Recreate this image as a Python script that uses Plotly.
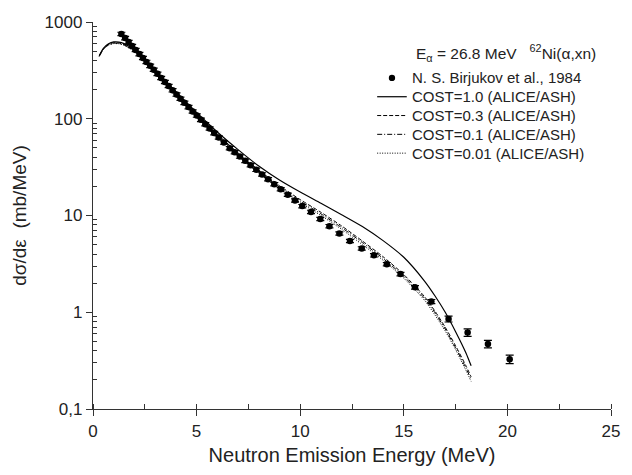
import numpy as np
import plotly.graph_objects as go

# Measured neutron emission spectrum, N. S. Birjukov et al. (1984)
exp_energy = [1.37, 1.55, 1.72, 1.89, 2.06, 2.24, 2.41, 2.58, 2.76, 2.93,
              3.11, 3.29, 3.47, 3.65, 3.84, 4.03, 4.22, 4.41, 4.61, 4.81,
              5.01, 5.21, 5.42, 5.63, 5.85, 6.07, 6.32, 6.60, 6.84, 7.09,
              7.35, 7.61, 7.88, 8.16, 8.45, 8.75, 9.06, 9.40, 9.75, 10.10,
              10.52, 10.97, 11.41, 11.89, 12.40, 12.97, 13.56, 14.18, 14.84, 15.54,
              16.33, 17.16, 18.08, 19.06, 20.11]
exp_xs = [753, 682, 621, 565, 514, 466, 425, 387, 352, 321,
          291, 264, 240, 218, 197, 178, 161, 146, 132, 119,
          108, 97.5, 87.9, 79.3, 71.1, 64.0, 56.8, 49.7, 45.1, 40.7,
          36.7, 33.1, 29.7, 26.6, 23.7, 21.1, 18.7, 16.4, 14.3, 12.5,
          10.9, 9.20, 7.76, 6.52, 5.45, 4.57, 3.88, 3.14, 2.48, 1.81,
          1.29, 0.853, 0.618, 0.470, 0.327]
# relative uncertainty (%) of each measured point
exp_err_pct = [4] * 50 + [5, 7, 9, 9, 10]

# ALICE/ASH calculations for several COST values
calc_energy = [0.3, 0.5, 0.75, 1.0, 1.25, 1.5, 2.0, 2.5, 3.0, 3.5,
               4.0, 5.0, 6.0, 7.0, 8.0, 9.0, 10.0, 11.0, 12.0, 13.0,
               14.0, 15.0, 16.0, 16.5, 17.0, 17.5, 18.0, 18.25]
cost_1_0 = [449, 535, 595, 622, 620, 597, 515, 410, 315, 245,
            190, 116, 73, 48, 32.5, 23.3, 17.5, 13.4, 10.2, 7.7,
            5.5, 3.7, 2.1, 1.48, 1.0, 0.63, 0.38, 0.28]
cost_0_3 = [445, 528, 585, 610, 607, 585, 505, 402, 308, 240,
            185, 112, 69, 44.5, 29.5, 20.3, 14.6, 10.8, 7.8, 5.45,
            3.75, 2.45, 1.45, 1.03, 0.70, 0.45, 0.28, 0.215]
cost_0_1 = [443, 525, 581, 605, 602, 580, 501, 399, 305, 237,
            183, 110, 67.5, 43.2, 28.5, 19.6, 14.1, 10.4, 7.5, 5.25,
            3.6, 2.35, 1.39, 0.99, 0.67, 0.43, 0.265, 0.203]
cost_0_01 = [440, 521, 576, 598, 595, 574, 496, 395, 302, 234,
             180, 108, 66, 42, 27.5, 18.9, 13.6, 10.0, 7.2, 5.0,
             3.45, 2.25, 1.33, 0.94, 0.64, 0.41, 0.25, 0.193]

y_tick_vals = [0.1, 1, 10, 100, 1000]
y_tick_text = ["0,1", "1", "10", "100", "1000"]

FONT = "Liberation Sans, Arial, sans-serif"
TEXT_COLOR = "#222222"
AXIS_COLOR = "#333333"

# plot area in pixels (used to place the legend block)
W, H = 632, 475
ML, MR, MT, MB = 93, 14, 22, 62
PW, PH = W - ML - MR, H - MT - MB


def px(xp):
    return (xp - ML) / PW


def py(yp):
    return (H - MB - yp) / PH


exp_err = [v * p / 100.0 for v, p in zip(exp_xs, exp_err_pct)]

fig = go.Figure()

fig.add_trace(go.Scatter(
    x=exp_energy, y=exp_xs, mode="markers",
    name="N. S. Birjukov et al., 1984",
    marker=dict(symbol="circle", size=6.5, color="black"),
    error_y=dict(type="data", array=exp_err, color="black",
                 thickness=1.2, width=4),
))

curves = [
    ("COST=1.0 (ALICE/ASH)", cost_1_0, "solid", 1.2),
    ("COST=0.3 (ALICE/ASH)", cost_0_3, "4px,2px", 1.0),
    ("COST=0.1 (ALICE/ASH)", cost_0_1, "5px,2px,1px,2px", 1.0),
    ("COST=0.01 (ALICE/ASH)", cost_0_01, "1px,1.5px", 1.0),
]
for name, vals, dash, w in curves:
    fig.add_trace(go.Scatter(
        x=calc_energy, y=vals, mode="lines", name=name,
        line=dict(color="black", width=w, dash=dash, shape="spline", smoothing=0.6),
    ))

# legend block: title line, marker entry and line entries
fig.add_annotation(
    xref="paper", yref="paper", x=px(605), y=py(53), xanchor="right", yanchor="middle",
    text="E<sub>α</sub> = 26.8 MeV   <sup>62</sup>Ni(α,xn)", showarrow=False,
    font=dict(family=FONT, size=15.5, color=TEXT_COLOR),
)
row_y = [78.5, 97.5, 116.5, 135.5, 154.5]
legend_names = ["N. S. Birjukov et al., 1984"] + [c[0] for c in curves]
for yy, name in zip(row_y, legend_names):
    fig.add_annotation(
        xref="paper", yref="paper", x=px(414), y=py(yy), xanchor="left", yanchor="middle",
        text=name, showarrow=False, font=dict(family=FONT, size=15, color=TEXT_COLOR),
    )
r = 3.2
fig.add_shape(type="circle", xref="paper", yref="paper",
              x0=px(396 - r), x1=px(396 + r), y0=py(row_y[0] + r), y1=py(row_y[0] - r),
              fillcolor="black", line=dict(color="black", width=0))
for yy, (_, _, dash, w) in zip(row_y[1:], curves):
    fig.add_shape(type="line", xref="paper", yref="paper",
                  x0=px(381), x1=px(411), y0=py(yy), y1=py(yy),
                  line=dict(color="black", width=w, dash=dash))

minor_y = [m * 10.0 ** k for k in range(-1, 3) for m in range(2, 10)]

fig.update_xaxes(
    range=[0, 25], dtick=5, tick0=0,
    showline=True, linecolor=AXIS_COLOR, linewidth=1.3,
    ticks="outside", ticklen=6, tickwidth=1.2, tickcolor=AXIS_COLOR,
    minor=dict(dtick=2.5, ticks="inside", ticklen=5, tickwidth=1.1, tickcolor=AXIS_COLOR),
    showgrid=False, zeroline=False,
    tickfont=dict(family=FONT, size=17, color=TEXT_COLOR),
    title=dict(text="Neutron Emission Energy (MeV)",
               font=dict(family=FONT, size=20, color=TEXT_COLOR), standoff=8),
)
fig.update_yaxes(
    type="log", range=[-1, 3],
    tickmode="array", tickvals=y_tick_vals, ticktext=y_tick_text,
    showline=True, linecolor=AXIS_COLOR, linewidth=1.3,
    ticks="outside", ticklen=6, tickwidth=1.2, tickcolor=AXIS_COLOR,
    minor=dict(tickmode="array", tickvals=minor_y, ticks="inside",
               ticklen=4, tickwidth=1.0, tickcolor=AXIS_COLOR),
    showgrid=False, zeroline=False,
    tickfont=dict(family=FONT, size=17, color=TEXT_COLOR),
    title=dict(text="dσ/dε  (mb/MeV)",
               font=dict(family=FONT, size=19, color=TEXT_COLOR), standoff=12),
)

fig.update_layout(
    width=W, height=H,
    margin=dict(l=ML, r=MR, t=MT, b=MB),
    plot_bgcolor="white", paper_bgcolor="white",
    showlegend=False,
)

fig.write_html("out.html")
